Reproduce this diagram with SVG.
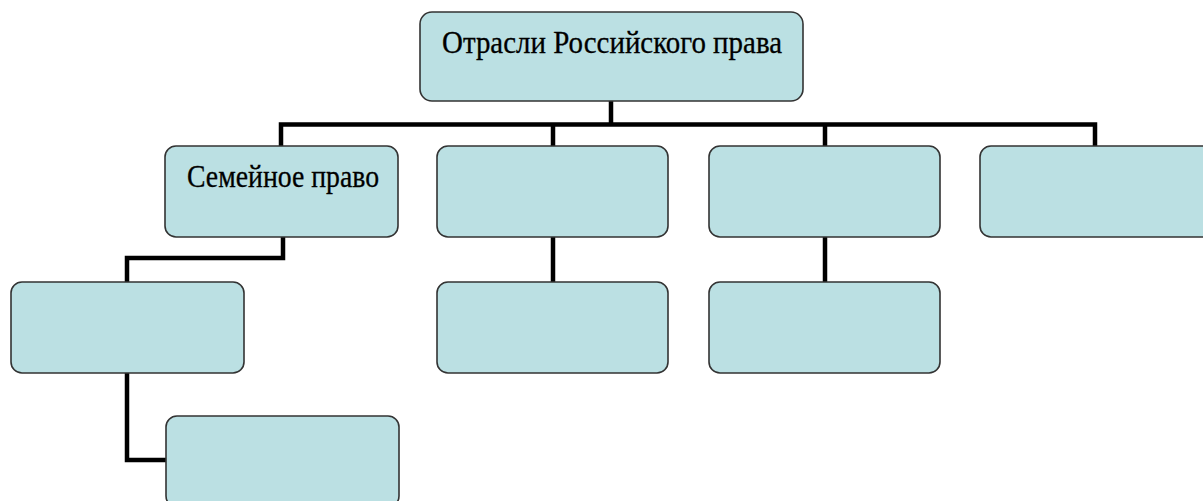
<svg xmlns="http://www.w3.org/2000/svg" width="1203" height="501" viewBox="0 0 1203 501">
<style>
.box{fill:#bbe0e3;stroke:#333;stroke-width:1.6}
.lbl{font-family:"Liberation Serif","Times New Roman",serif;font-size:32px;fill:#000;stroke:#000;stroke-width:0.3}
.conn{fill:none;stroke:#000;stroke-width:4.5;stroke-linejoin:miter;stroke-linecap:square}
</style>
<rect x="0" y="0" width="1203" height="501" fill="#fff"/>
<g id="connectors">
<path class="conn" d="M611 101V124.5M281 124.5H1095M281 124.5V146M553 124.5V146M825 124.5V146M1095 124.5V146"/>
<path class="conn" d="M283 237V258H127V282"/>
<path class="conn" d="M127 373V460H166"/>
<path class="conn" d="M553 237V282"/>
<path class="conn" d="M825 237V282"/>
</g>
<g id="n-root"><rect class="box" x="420" y="12" width="383" height="89" rx="12"/><text class="lbl" x="442" y="53" textLength="340" lengthAdjust="spacingAndGlyphs">Отрасли Российского права</text></g>
<g id="n-family"><rect class="box" x="165" y="146" width="233" height="91" rx="11"/><text class="lbl" x="187" y="187" textLength="192" lengthAdjust="spacingAndGlyphs">Семейное право</text></g>
<g id="n-b2"><rect class="box" x="437" y="146" width="231" height="91" rx="11"/></g>
<g id="n-b3"><rect class="box" x="709" y="146" width="231" height="91" rx="11"/></g>
<g id="n-b4"><rect class="box" x="980" y="146" width="233" height="91" rx="11"/></g>
<g id="n-b5"><rect class="box" x="11" y="282" width="233" height="91" rx="11"/></g>
<g id="n-b6"><rect class="box" x="166" y="416" width="233" height="91" rx="11"/></g>
<g id="n-b7"><rect class="box" x="437" y="282" width="231" height="91" rx="11"/></g>
<g id="n-b8"><rect class="box" x="709" y="282" width="231" height="91" rx="11"/></g>
</svg>
